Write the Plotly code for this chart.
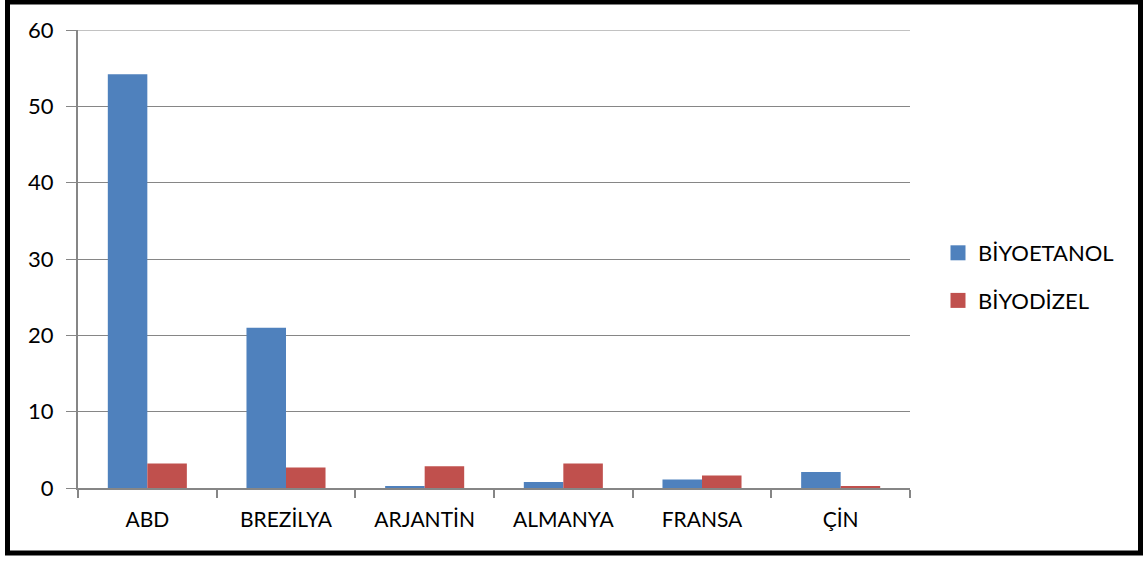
import plotly.graph_objects as go

categories = ["ABD", "BREZİLYA", "ARJANTİN", "ALMANYA", "FRANSA", "ÇİN"]
biyoetanol = [54.2, 21.0, 0.15, 0.8, 1.1, 2.1]
biyodizel = [3.2, 2.7, 2.85, 3.2, 1.65, 0.2]
y_ticks = [0, 10, 20, 30, 40, 50, 60]
series_names = ["BİYOETANOL", "BİYODİZEL"]
series_colors = ["#4F81BD", "#C0504D"]

FONT = "Lato"
L, R, T, B = 78, 238, 30, 73
W, H = 1148, 561
pw, ph = W - L - R, H - T - B

def px(x):
    return (x - L) / pw

def py(y):
    return (H - B - y) / ph

fig = go.Figure()
for vals, name, col in zip([biyoetanol, biyodizel], series_names, series_colors):
    fig.add_trace(go.Bar(x=categories, y=vals, name=name,
                         marker=dict(color=col, line=dict(width=0)),
                         showlegend=False))
for i, (name, col) in enumerate(zip(series_names, series_colors)):
    fig.add_trace(go.Scatter(x=[None], y=[None], mode="markers", name=name,
                             marker=dict(symbol="square", size=15, color=col),
                             legendgroup="g%d" % i))

fig.update_layout(
    width=W, height=H,
    margin=dict(l=L, r=R, t=T, b=B),
    paper_bgcolor="white", plot_bgcolor="white",
    barmode="group", bargap=0.43, bargroupgap=0,
    font=dict(family=FONT, size=21, color="black"),
    legend=dict(x=px(938), xanchor="left", y=py(277), yanchor="middle",
                font=dict(size=22), tracegroupgap=16, itemwidth=30,
                bgcolor="rgba(0,0,0,0)"),
    xaxis=dict(showgrid=False, showline=True, linecolor="#868686", linewidth=2,
               ticks="outside", tickson="boundaries", ticklen=8, tickwidth=2,
               tickcolor="#868686", tickfont=dict(size=21),
               ticklabelstandoff=12),
    yaxis=dict(range=[0, 60], tickvals=y_ticks, showgrid=True,
               gridcolor="#868686", gridwidth=1, showline=True,
               linecolor="#868686", linewidth=2, ticks="outside", ticklen=10,
               tickwidth=1, tickcolor="#868686", tickfont=dict(size=22),
               ticklabelstandoff=8, zeroline=False),
    shapes=[
        dict(type="line", xref="paper", yref="y", x0=0, x1=1, y0=60, y1=60,
             line=dict(color="#868686", width=1), layer="below"),
        dict(type="rect", xref="paper", yref="paper",
             x0=px(7.5), x1=px(1140.5), y0=py(553), y1=py(2),
             line=dict(color="black", width=5), fillcolor="rgba(0,0,0,0)",
             layer="above"),
    ],
)

fig.write_html("out.html")
